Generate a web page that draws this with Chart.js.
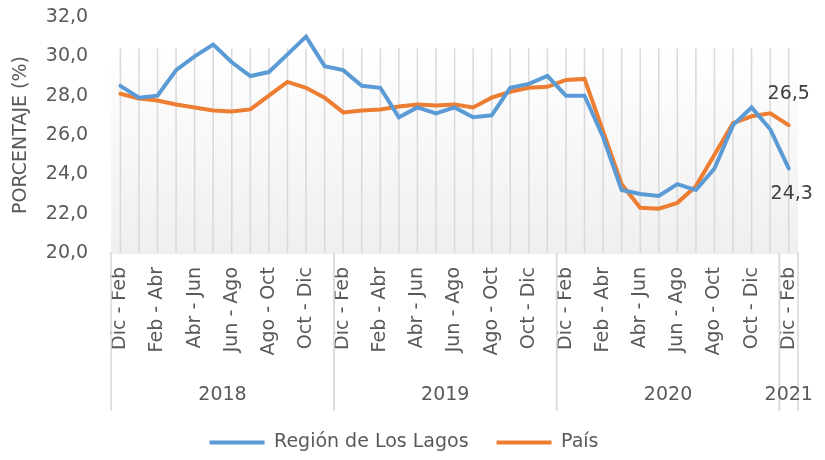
<!DOCTYPE html>
<html>
<head>
<meta charset="utf-8">
<script src="https://cdn.jsdelivr.net/npm/chart.js@4"></script>
<style>
  body { margin: 0; background: #fff; }
  #wrap { width: 825px; height: 460px; }
</style>
</head>
<body>
<div id="wrap"><canvas id="grafico"></canvas></div>
<script>
// trimestres moviles, de Dic-Feb 2018 a Dic-Feb 2021
const trimestres = [
    'Dic - Feb', 'Ene - Mar', 'Feb - Abr', 'Mar - May', 'Abr - Jun', 'May - Jul',
    'Jun - Ago', 'Jul - Sep', 'Ago - Oct', 'Sep - Nov', 'Oct - Dic', 'Nov - Ene',
    'Dic - Feb', 'Ene - Mar', 'Feb - Abr', 'Mar - May', 'Abr - Jun', 'May - Jul',
    'Jun - Ago', 'Jul - Sep', 'Ago - Oct', 'Sep - Nov', 'Oct - Dic', 'Nov - Ene',
    'Dic - Feb', 'Ene - Mar', 'Feb - Abr', 'Mar - May', 'Abr - Jun', 'May - Jul',
    'Jun - Ago', 'Jul - Sep', 'Ago - Oct', 'Sep - Nov', 'Oct - Dic', 'Nov - Ene',
    'Dic - Feb'
];
const anios = ['2018', '2019', '2020', '2021'];
const trimestresPorAnio = [12, 12, 12, 1];

const losLagos = [
    28.5, 27.9, 28.0, 29.3, 30.0, 30.6, 29.7, 29.0, 29.2, 30.1, 31.0, 29.5,
    29.3, 28.5, 28.4, 26.9, 27.4, 27.1, 27.4, 26.9, 27.0, 28.4, 28.6, 29.0,
    28.0, 28.0, 25.9, 23.2, 23.0, 22.9, 23.5, 23.2, 24.3, 26.5, 27.4, 26.3,
    24.3
];
const pais = [
    28.1, 27.85, 27.75, 27.55, 27.4, 27.25, 27.2, 27.3, 28.0, 28.7, 28.4, 27.9,
    27.15, 27.25, 27.3, 27.45, 27.55, 27.5, 27.55, 27.4, 27.9, 28.2, 28.4, 28.45,
    28.8, 28.85, 26.2, 23.5, 22.3, 22.25, 22.55, 23.4, 25.0, 26.6, 26.95, 27.1,
    26.5
];
const ticksY = [20, 22, 24, 26, 28, 30, 32];

const gris = '#595959';
const fuente = '"DejaVu Sans", sans-serif';
const fmt = v => v.toFixed(1).replace('.', ',');

Chart.defaults.font.family = fuente;
Chart.defaults.font.size = 19;
Chart.defaults.color = gris;

// fondo degradado y lineas verticales por trimestre
const fondoExcel = {
    id: 'fondoExcel',
    beforeDatasetsDraw(chart) {
        const { ctx, chartArea: a, scales: { x, y } } = chart;
        const top = y.getPixelForValue(30.4);
        const g = ctx.createLinearGradient(0, top, 0, a.bottom);
        g.addColorStop(0, '#ffffff');
        g.addColorStop(1, '#efefef');
        ctx.save();
        ctx.fillStyle = g;
        ctx.fillRect(a.left, top, a.right - a.left, a.bottom - top);
        ctx.strokeStyle = '#d9d9d9';
        ctx.lineWidth = 1.5;
        trimestres.forEach((t, i) => {
            const px = x.getPixelForValue(i);
            ctx.beginPath();
            ctx.moveTo(px, top);
            ctx.lineTo(px, a.bottom);
            ctx.stroke();
        });
        ctx.restore();
    }
};

// segundo nivel del eje (años) y etiquetas del ultimo dato
const ejeAnios = {
    id: 'ejeAnios',
    afterDraw(chart) {
        const { ctx, chartArea: a, scales: { x } } = chart;
        ctx.save();
        ctx.strokeStyle = '#d9d9d9';
        ctx.lineWidth = 1.5;
        ctx.fillStyle = gris;
        ctx.font = '19px ' + fuente;
        ctx.textAlign = 'center';
        ctx.textBaseline = 'middle';
        let ini = 0;
        anios.forEach((anio, k) => {
            const fin = ini + trimestresPorAnio[k];
            const x0 = ini === 0 ? a.left : (x.getPixelForValue(ini - 1) + x.getPixelForValue(ini)) / 2;
            const x1 = fin >= trimestres.length ? a.right : (x.getPixelForValue(fin - 1) + x.getPixelForValue(fin)) / 2;
            [x0, x1].forEach(px => {
                ctx.beginPath();
                ctx.moveTo(px, a.bottom);
                ctx.lineTo(px, a.bottom + 158);
                ctx.stroke();
            });
            ctx.fillText(anio, (x0 + x1) / 2, a.bottom + 142);
            ini = fin;
        });

        ctx.fillStyle = '#404040';
        const ultimo = trimestres.length - 1;
        const pL = chart.getDatasetMeta(0).data[ultimo];
        const pP = chart.getDatasetMeta(1).data[ultimo];
        ctx.fillText(fmt(pais[ultimo]), pP.x, pP.y - 31);
        ctx.fillText(fmt(losLagos[ultimo]), pL.x + 3, pL.y + 26);
        ctx.restore();
    }
};

new Chart(document.getElementById('grafico'), {
    type: 'line',
    data: {
        labels: trimestres,
        datasets: [
            {
                label: 'Región de Los Lagos',
                data: losLagos,
                borderColor: '#5b9bd5',
                backgroundColor: '#5b9bd5',
                borderWidth: 4,
                borderCapStyle: 'round',
                pointRadius: 0,
                tension: 0
            },
            {
                label: 'País',
                data: pais,
                borderColor: '#ed7d31',
                backgroundColor: '#ed7d31',
                borderWidth: 4,
                borderCapStyle: 'round',
                pointRadius: 0,
                tension: 0
            }
        ]
    },
    options: {
        responsive: true,
        maintainAspectRatio: false,
        animation: false,
        layout: { padding: { top: 0, right: 17, left: 0, bottom: -2 } },
        plugins: {
            legend: {
                position: 'bottom',
                labels: {
                    usePointStyle: true,
                    pointStyle: 'line',
                    pointStyleWidth: 55,
                    padding: 28,
                    color: gris,
                    font: { size: 19 }
                }
            },
            tooltip: { enabled: false }
        },
        scales: {
            x: {
                offset: true,
                grid: { display: false, drawTicks: false },
                border: { color: '#d9d9d9', width: 1.5 },
                ticks: {
                    autoSkip: false,
                    minRotation: 90,
                    maxRotation: 90,
                    padding: 14,
                    color: gris,
                    font: { size: 19 },
                    callback: (v, i) => (i % 2 === 0 ? trimestres[i] : '')
                },
                afterFit: s => { s.height = 152; s.paddingRight = 27; }
            },
            y: {
                min: 20,
                max: 32,
                afterBuildTicks: s => { s.ticks = ticksY.map(v => ({ value: v })); },
                afterFit: s => { s.paddingTop = 17; },
                grid: { display: false, drawTicks: false },
                border: { display: false },
                ticks: {
                    padding: 23,
                    color: gris,
                    font: { size: 19 },
                    callback: v => fmt(v)
                },
                title: {
                    display: true,
                    text: 'PORCENTAJE (%)',
                    color: gris,
                    font: { size: 19 },
                    padding: { top: 10, bottom: -10 }
                }
            }
        }
    },
    plugins: [fondoExcel, ejeAnios]
});
</script>
</body>
</html>
